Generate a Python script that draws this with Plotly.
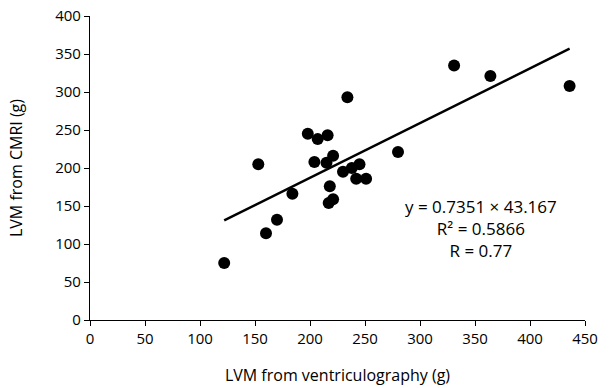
import plotly.graph_objects as go

# LVM from ventriculography (g) vs LVM from CMRI (g)
vent_lvm = [122, 153, 160, 170, 184, 198, 204, 207, 215, 216, 221, 218, 221, 217, 234,
            230, 238, 245, 242, 251, 280, 331, 364, 436]
cmri_lvm = [75, 205, 114, 132, 166, 245, 208, 238, 207, 243, 216, 176, 159, 154, 293,
            195, 200, 205, 186, 186, 221, 335, 321, 308]

# regression line end points
fit_x = [122, 436]
fit_y = [131, 357]

x_ticks = [0, 50, 100, 150, 200, 250, 300, 350, 400, 450]
y_ticks = [0, 50, 100, 150, 200, 250, 300, 350, 400]

eq_lines = ["y = 0.7351 × 43.167", "R² = 0.5866", "R = 0.77"]

FONT = "Open Sans"

fig = go.Figure()
fig.add_trace(go.Scatter(x=fit_x, y=fit_y, mode="lines",
                         line=dict(color="black", width=2.5), showlegend=False,
                         hoverinfo="skip"))
fig.add_trace(go.Scatter(x=vent_lvm, y=cmri_lvm, mode="markers",
                         marker=dict(color="black", size=12), showlegend=False))

fig.add_annotation(x=0.79, y=0.30, xref="paper", yref="paper",
                   text="<br>".join(eq_lines), showarrow=False, align="center",
                   font=dict(family=FONT, size=17, color="black"),
                   xanchor="center", yanchor="middle")

fig.update_layout(
    width=613, height=388,
    margin=dict(l=90, r=28, t=16, b=68),
    paper_bgcolor="white", plot_bgcolor="white",
    font=dict(family=FONT, size=15, color="black"),
    xaxis=dict(range=[0, 450], tickvals=x_ticks, ticks="outside", ticklen=5,
               tickwidth=1.2, tickcolor="black", showline=True, linecolor="black",
               linewidth=1.2, showgrid=False, zeroline=False, automargin=False,
               title=dict(text="LVM from ventriculography (g)", standoff=22,
                          font=dict(size=16))),
    yaxis=dict(range=[0, 400], tickvals=y_ticks, ticks="outside", ticklen=5,
               tickwidth=1.2, tickcolor="black", showline=True, linecolor="black",
               linewidth=1.2, showgrid=False, zeroline=False, automargin=False,
               title=dict(text="LVM from CMRI (g)", standoff=28,
                          font=dict(size=16))),
)

fig.write_html("out.html", config={"displayModeBar": False},
               post_script="document.body.style.margin='0';")
